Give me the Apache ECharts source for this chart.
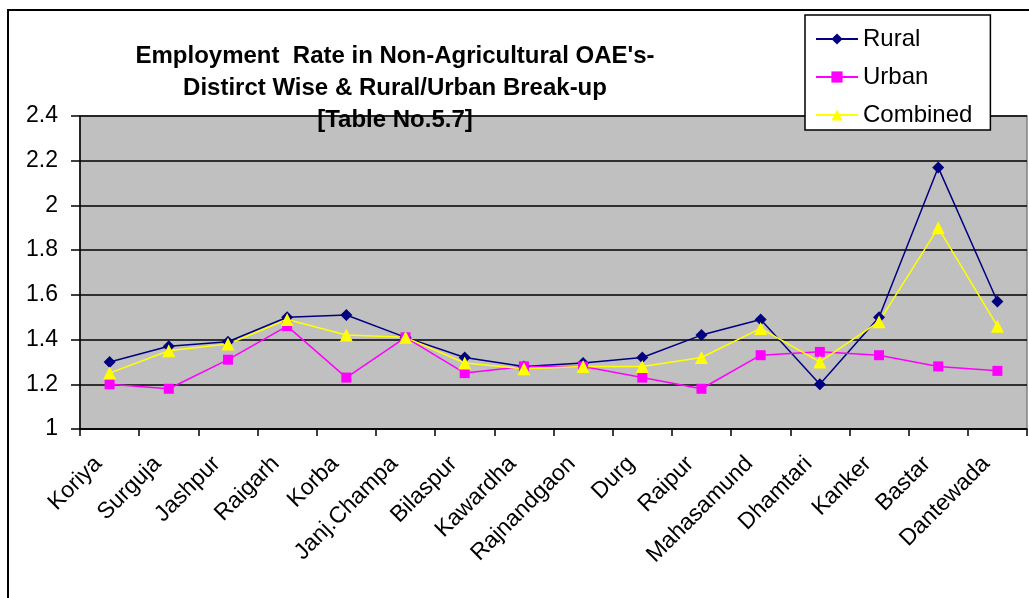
<!DOCTYPE html>
<html><head><meta charset="utf-8">
<script src="https://cdn.jsdelivr.net/npm/echarts@6/dist/echarts.min.js"></script>
<style>html,body{margin:0;padding:0;background:#fff}#c{width:1029px;height:598px}</style>
</head><body><div id="c"></div>
<script>
const categories = ['Koriya','Surguja','Jashpur','Raigarh','Korba','Janj.Champa','Bilaspur','Kawardha','Rajnandgaon','Durg','Raipur','Mahasamund','Dhamtari','Kanker','Bastar','Dantewada'];
const rural    = [1.30,1.37,1.39,1.50,1.51,1.41,1.32,1.28,1.295,1.32,1.42,1.49,1.20,1.50,2.17,1.57];
const urban    = [1.20,1.18,1.31,1.46,1.23,1.41,1.25,1.28,1.28,1.23,1.18,1.33,1.345,1.33,1.28,1.26];
const combined = [1.25,1.35,1.38,1.49,1.42,1.41,1.295,1.27,1.28,1.28,1.32,1.45,1.30,1.48,1.90,1.46];
const titleText = "Employment  Rate in Non-Agricultural OAE's-\nDistirct Wise & Rural/Urban Break-up\n[Table No.5.7]";

const chart = echarts.init(document.getElementById('c'), null, {renderer:'canvas'});
const FONT = '"Liberation Sans", Arial, sans-serif';
chart.setOption({
  animation:false,
  backgroundColor:'#fff',
  textStyle:{fontFamily:FONT},
  title:{
    text:titleText, left:395, top:40, textAlign:'center', z:10, padding:0,
    textStyle:{fontFamily:FONT,fontSize:24,fontWeight:'bold',color:'#000',lineHeight:32}
  },
  legend:{
    orient:'vertical', left:805, top:15,
    padding:[12,18,3,10], itemGap:14,
    borderColor:'#000', borderWidth:1.5, backgroundColor:'#fff',
    itemWidth:42, itemHeight:14,
    textStyle:{fontFamily:FONT,fontSize:24,color:'#000',lineHeight:24},
    data:['Rural','Urban','Combined']
  },
  grid:{left:80,right:2,top:116,bottom:169,show:true,backgroundColor:'#c0c0c0',borderColor:'#808080',borderWidth:1.5},
  xAxis:{
    type:'category', data:categories, boundaryGap:true,
    axisLine:{lineStyle:{color:'#000',width:1.5}},
    axisTick:{show:true,length:7,lineStyle:{color:'#000',width:1.5},alignWithLabel:false},
    axisLabel:{rotate:45,fontFamily:FONT,fontSize:23,color:'#000',margin:20,padding:[0,16,0,0],interval:0}
  },
  yAxis:{
    type:'value', min:1, max:2.4, interval:0.2,
    axisLine:{show:true,lineStyle:{color:'#000',width:1.5}},
    axisTick:{show:true,length:9,lineStyle:{color:'#000',width:1.5}},
    axisLabel:{fontFamily:FONT,fontSize:23,color:'#000',margin:22},
    splitLine:{lineStyle:{color:'#000',width:1.5}}
  },
  series:[
    {name:'Rural',type:'line',data:rural,symbol:'diamond',symbolSize:12,
     lineStyle:{color:'#000080',width:1.5},itemStyle:{color:'#000080'}},
    {name:'Urban',type:'line',data:urban,symbol:'rect',symbolSize:10,
     lineStyle:{color:'#ff00ff',width:1.5},itemStyle:{color:'#ff00ff'}},
    {name:'Combined',type:'line',data:combined,symbol:'triangle',symbolSize:13,
     lineStyle:{color:'#ffff00',width:1.5},itemStyle:{color:'#ffff00'}}
  ],
  graphic:[{type:'rect',silent:true,z:100,shape:{x:8,y:10,width:1200,height:800},
    style:{fill:'none',stroke:'#000',lineWidth:2}}]
});
</script></body></html>
